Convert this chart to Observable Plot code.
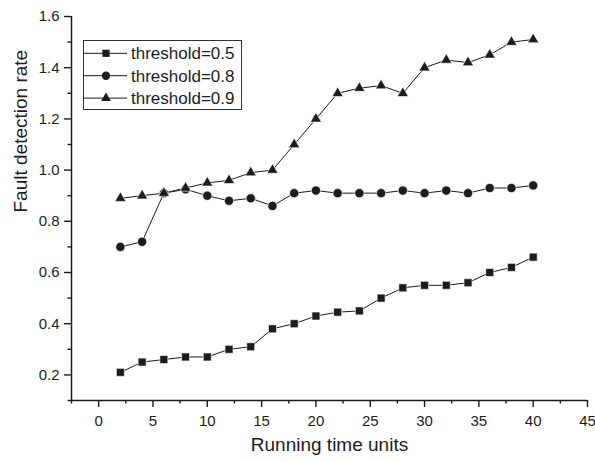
<!DOCTYPE html>
<html>
<head>
<meta charset="utf-8">
<script src="https://cdn.jsdelivr.net/npm/d3@7"></script>
<script src="https://cdn.jsdelivr.net/npm/@observablehq/plot@0.6"></script>
<style>
  html, body { margin: 0; padding: 0; background: #fff; }
  #chart svg { display: block; }
</style>
</head>
<body>
<div id="chart"></div>
<script>
// ---- data ----
const runningTime = [2, 4, 6, 8, 10, 12, 14, 16, 18, 20, 22, 24, 26, 28, 30, 32, 34, 36, 38, 40];
const threshold05 = [0.21, 0.25, 0.26, 0.27, 0.27, 0.30, 0.31, 0.38, 0.40, 0.43, 0.445, 0.45, 0.50, 0.54, 0.55, 0.55, 0.56, 0.60, 0.62, 0.66];
const threshold08 = [0.70, 0.72, 0.91, 0.925, 0.90, 0.88, 0.89, 0.86, 0.91, 0.92, 0.91, 0.91, 0.91, 0.92, 0.91, 0.92, 0.91, 0.93, 0.93, 0.94];
const threshold09 = [0.89, 0.90, 0.91, 0.93, 0.95, 0.96, 0.99, 1.00, 1.10, 1.20, 1.30, 1.32, 1.33, 1.30, 1.40, 1.43, 1.42, 1.45, 1.50, 1.51];
const seriesNames = ["threshold=0.5", "threshold=0.8", "threshold=0.9"];
const seriesSymbols = ["square", "circle", "triangle"];
const xDomain = [-2.5, 45];
const yDomain = [0.1, 1.6];
const xTicks = [0, 5, 10, 15, 20, 25, 30, 35, 40, 45];
const xMinorTicks = [-2.5, 2.5, 7.5, 12.5, 17.5, 22.5, 27.5, 32.5, 37.5, 42.5];
const yTicks = [0.2, 0.4, 0.6, 0.8, 1.0, 1.2, 1.4, 1.6];
const yMinorTicks = [0.1, 0.3, 0.5, 0.7, 0.9, 1.1, 1.3, 1.5];
const xLabel = "Running time units";
const yLabel = "Fault detection rate";

const seriesValues = [threshold05, threshold08, threshold09];
const data = seriesNames.flatMap((name, i) =>
  runningTime.map((t, j) => ({series: name, x: t, y: seriesValues[i][j]}))
);

const FONT = "'Liberation Sans', Arial, sans-serif";
const INK = "#1c1c1c";
const dotR = {square: 4.5, circle: 4.6, triangle: 4.1};

const symbolTypes = {square: d3.symbolSquare, circle: d3.symbolCircle, triangle: d3.symbolTriangle};
const legendSizes = {square: 52, circle: 56, triangle: 40};

function legend(index, scales, values, dimensions) {
  const g = d3.create("svg:g");
  const x0 = 83.5, y0 = 40.5, w = 158, h = 69;
  g.append("rect").attr("x", x0).attr("y", y0).attr("width", w).attr("height", h)
    .attr("fill", "white").attr("stroke", "#333").attr("stroke-width", 1);
  seriesNames.forEach((name, i) => {
    const cy = 53.3 + i * 22.4;
    g.append("line").attr("x1", x0).attr("x2", 127).attr("y1", cy).attr("y2", cy)
      .attr("stroke", INK).attr("stroke-width", 1);
    g.append("path")
      .attr("d", d3.symbol().type(symbolTypes[seriesSymbols[i]]).size(legendSizes[seriesSymbols[i]])())
      .attr("transform", `translate(106,${cy})`).attr("fill", INK);
    g.append("text").attr("x", 131).attr("y", cy).attr("dy", "0.36em")
      .attr("text-anchor", "start")
      .attr("font-family", FONT).attr("font-size", 17).attr("fill", INK).text(name);
  });
  return g.node();
}

const chart = Plot.plot({
  width: 595,
  height: 461,
  marginLeft: 71,
  marginRight: 8,
  marginTop: 16,
  marginBottom: 61,
  style: {fontFamily: FONT, color: INK, background: "white", overflow: "visible"},
  x: {domain: xDomain, axis: null},
  y: {domain: yDomain, axis: null},
  marks: [
    Plot.axisX(xTicks, {tickSize: 7, tickPadding: 8, fontSize: 15, strokeWidth: 1.4, label: null, stroke: INK, fill: INK}),
    Plot.axisX(xMinorTicks, {tickSize: 3.5, tickFormat: () => "", strokeWidth: 1.4, label: null, stroke: INK}),
    Plot.axisY(yTicks, {tickSize: 7, tickPadding: 5, fontSize: 15, strokeWidth: 1.4, label: null, stroke: INK, fill: INK, tickFormat: d3.format(".1f")}),
    Plot.axisY(yMinorTicks, {tickSize: 3.5, tickFormat: () => "", strokeWidth: 1.4, label: null, stroke: INK}),
    Plot.ruleX([xDomain[0]], {stroke: INK, strokeWidth: 1.5}),
    Plot.ruleY([yDomain[0]], {stroke: INK, strokeWidth: 1.5}),
    Plot.line(data, {x: "x", y: "y", z: "series", stroke: INK, strokeWidth: 1}),
    ...seriesNames.map((name, i) =>
      Plot.dot(data.filter(d => d.series === name), {
        x: "x", y: "y", symbol: () => seriesSymbols[i], r: dotR[seriesSymbols[i]],
        fill: INK, stroke: "white", strokeWidth: 0.6
      })
    ),
    Plot.text([xLabel], {frameAnchor: "bottom", dy: 50, fontSize: 19, fill: INK, text: d => d}),
    Plot.text([yLabel], {frameAnchor: "left", dx: -51, dy: 4, rotate: -90, fontSize: 19, fill: INK, text: d => d}),
    legend
  ]
});
document.getElementById("chart").appendChild(chart);
</script>
</body>
</html>
